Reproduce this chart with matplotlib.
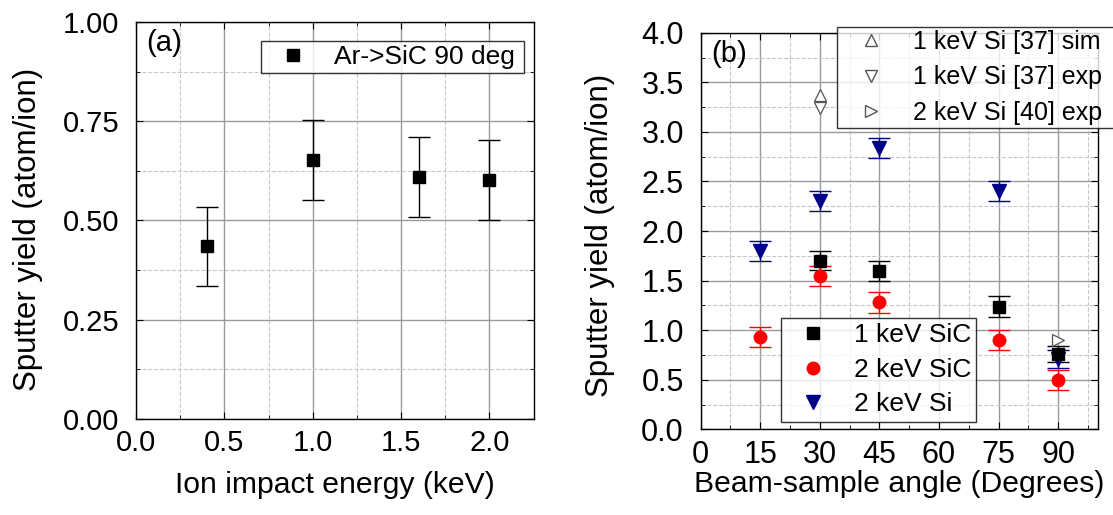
import matplotlib
matplotlib.use("Agg")
import matplotlib.pyplot as plt
from matplotlib.ticker import MultipleLocator, FixedLocator
from matplotlib.lines import Line2D

plt.rcParams['font.family'] = ['Liberation Sans', 'DejaVu Sans']

# Panel (a) data
a_energy = [0.4, 1.0, 1.6, 2.0]
a_yield = [0.435, 0.652, 0.61, 0.602]
a_err = [0.10, 0.10, 0.10, 0.10]

# Panel (b) data
b_sic1_angle = [30, 45, 75, 90]
b_sic1_yield = [1.70, 1.60, 1.235, 0.76]
b_sic1_err = [0.095, 0.10, 0.105, 0.08]

b_sic2_angle = [15, 30, 45, 75, 90]
b_sic2_yield = [0.93, 1.545, 1.28, 0.90, 0.50]
b_sic2_err = [0.10, 0.10, 0.105, 0.105, 0.10]

b_si2_angle = [15, 30, 45, 75, 90]
b_si2_yield = [1.80, 2.30, 2.84, 2.40, 0.71]
b_si2_err = [0.10, 0.10, 0.10, 0.10, 0.09]

ref_sim_angle = [30]
ref_sim_yield = [3.37]
ref_exp_angle = [30]
ref_exp_yield = [3.24]
ref40_angle = [90]
ref40_yield = [0.90]

W, H = 1113, 515
fig = plt.figure(figsize=(W / 100, H / 100), dpi=100)

XLABEL_FS = 21.7
YLABEL_FS = 22.5

def style_axes(ax, fs, xpad, ypad):
    ax.grid(which='major', color='#9a9a9a', linestyle='-', linewidth=1.0)
    ax.grid(which='minor', color='#c8c8c8', linestyle='--', linewidth=0.8)
    ax.set_axisbelow(True)
    ax.tick_params(which='both', direction='in', top=True, right=True,
                   labelsize=fs)
    ax.tick_params(axis='x', which='both', pad=xpad)
    ax.tick_params(axis='y', which='both', pad=ypad)
    ax.tick_params(which='major', length=5)
    ax.tick_params(which='minor', length=3)
    for s in ax.spines.values():
        s.set_linewidth(1.0)
        s.set_color('black')

# ---------- Panel (a) ----------
axa = fig.add_axes([0.1222, 0.1864, 0.3572, 0.7709])
axa.errorbar(a_energy, a_yield, yerr=a_err, fmt='s', color='black',
             markersize=8.5, capsize=7.6, elinewidth=1.0, capthick=1.0)
axa.set_xlim(0, 2.25)
axa.set_ylim(0, 1.0)
axa.set_xticks([0, 0.5, 1.0, 1.5, 2.0])
axa.set_xticklabels(['0.0', '0.5', '1.0', '1.5', '2.0'])
axa.xaxis.set_minor_locator(MultipleLocator(0.25))
axa.set_yticks([0, 0.25, 0.5, 0.75, 1.0])
axa.set_yticklabels(['0.00', '0.25', '0.50', '0.75', '1.00'])
axa.yaxis.set_minor_locator(MultipleLocator(0.125))
style_axes(axa, 21, 7.5, 12)
axa.set_xlabel('Ion impact energy (keV)', fontsize=XLABEL_FS, labelpad=10)
axa.set_ylabel('Sputter yield (atom/ion)', fontsize=YLABEL_FS)
axa.yaxis.set_label_coords(-0.233, 0.477)
axa.text(10 / 397.6, 1 - 7 / 396.3, '(a)', transform=axa.transAxes, fontsize=21,
         va='top', ha='left')
h_a = [Line2D([], [], marker='s', color='black', linestyle='none', markersize=8.5)]
leg_a = fig.legend(h_a, ['Ar->SiC 90 deg'], loc='upper left',
                   bbox_to_anchor=(260.7 / W, 0, (524 - 260.7) / W, 1 - 40.7 / H),
                   mode='expand', fontsize=19,
                   frameon=True, fancybox=False, edgecolor='black',
                   borderpad=0.16, handletextpad=0.46, handlelength=2.15,
                   borderaxespad=0)
leg_a.get_frame().set_linewidth(1.0)

# ---------- Panel (b) ----------
axb = fig.add_axes([0.6294, 0.1664, 0.3571, 0.7700])
axb.errorbar(b_si2_angle, b_si2_yield, yerr=b_si2_err, fmt='v', color='#00008b',
             markersize=10, capsize=8, elinewidth=1.0, capthick=1.0, zorder=3)
axb.errorbar(b_sic1_angle, b_sic1_yield, yerr=b_sic1_err, fmt='s', color='black',
             markersize=8.5, capsize=8, elinewidth=1.0, capthick=1.0, zorder=3)
axb.errorbar(b_sic2_angle, b_sic2_yield, yerr=b_sic2_err, fmt='o', color='#ff0000',
             markersize=9, capsize=8, elinewidth=1.0, capthick=1.0, zorder=3)
axb.plot(ref_sim_angle, ref_sim_yield, marker='^', mfc='white', mec='#555555',
         linestyle='none', markersize=9, mew=0.9, zorder=4)
axb.plot(ref_exp_angle, ref_exp_yield, marker='v', mfc='white', mec='#555555',
         linestyle='none', markersize=9, mew=0.9, zorder=4)
axb.plot(ref40_angle, ref40_yield, marker='>', mfc='white', mec='#555555',
         linestyle='none', markersize=9, mew=0.9, zorder=4)
axb.set_xlim(0, 100)
axb.set_ylim(0, 4.0)
axb.set_xticks([0, 15, 30, 45, 60, 75, 90])
axb.xaxis.set_minor_locator(FixedLocator([7.5, 22.5, 37.5, 52.5, 67.5, 82.5, 97.5]))
axb.set_yticks([0, 0.5, 1.0, 1.5, 2.0, 2.5, 3.0, 3.5, 4.0])
axb.set_yticklabels(['0.0', '0.5', '1.0', '1.5', '2.0', '2.5', '3.0', '3.5', '4.0'])
axb.yaxis.set_minor_locator(MultipleLocator(0.25))
style_axes(axb, 22, 7.5, 12)
axb.set_xlabel('Beam-sample angle (Degrees)', fontsize=XLABEL_FS, labelpad=0)
axb.set_ylabel('Sputter yield (atom/ion)', fontsize=YLABEL_FS)
axb.yaxis.set_label_coords(-0.216, 0.49)
axb.text(11 / 397.5, 1 - 7 / 396.6, '(b)', transform=axb.transAxes, fontsize=21,
         va='top', ha='left')

h_b1 = [Line2D([], [], marker='^', mfc='white', mec='#555555', linestyle='none', markersize=9),
        Line2D([], [], marker='v', mfc='white', mec='#555555', linestyle='none', markersize=9),
        Line2D([], [], marker='>', mfc='white', mec='#555555', linestyle='none', markersize=9)]
leg_b1 = fig.legend(h_b1, ['1 keV Si [37] sim', '1 keV Si [37] exp', '2 keV Si [40] exp'],
                    loc='upper left',
                    bbox_to_anchor=(837 / W, 0, 300 / W, 1 - 26.7 / H),
                    mode='expand',
                    fontsize=18, frameon=True, fancybox=False, edgecolor='black',
                    borderpad=0.14, handletextpad=0.5, handlelength=2.4,
                    labelspacing=0.45, borderaxespad=0)
leg_b1.get_frame().set_linewidth(1.0)

h_b2 = [Line2D([], [], marker='s', color='black', linestyle='none', markersize=8.5),
        Line2D([], [], marker='o', color='#ff0000', linestyle='none', markersize=9),
        Line2D([], [], marker='v', color='#00008b', linestyle='none', markersize=10)]
leg_b2 = fig.legend(h_b2, ['1 keV SiC', '2 keV SiC', '2 keV Si'],
                    loc='upper left',
                    bbox_to_anchor=(780.5 / W, 0, (975.5 - 780.5) / W, 1 - 318 / H),
                    mode='expand',
                    fontsize=19, frameon=True, fancybox=False, edgecolor='black',
                    borderpad=0.2, handletextpad=0.48, handlelength=2.1,
                    labelspacing=0.4, borderaxespad=0)
leg_b2.get_frame().set_linewidth(1.0)

fig.savefig('out.png', dpi=100)
